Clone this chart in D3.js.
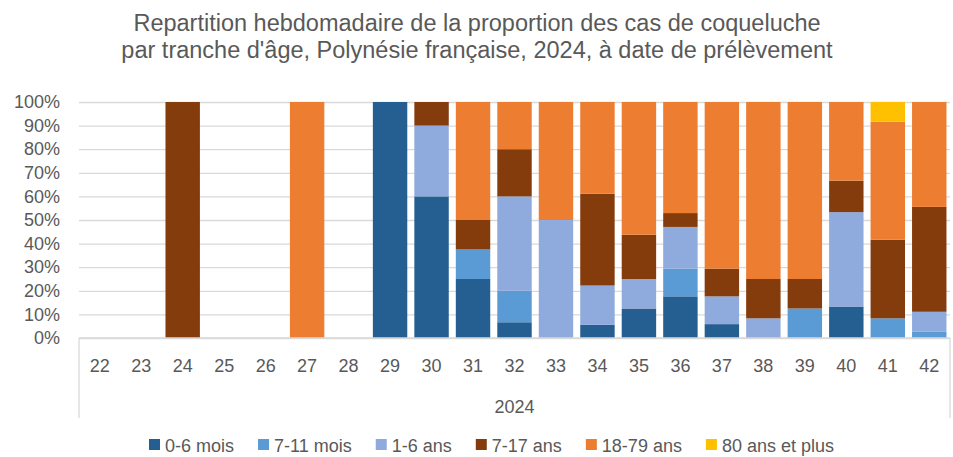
<!DOCTYPE html>
<html>
<head>
<meta charset="utf-8">
<title>Coqueluche par tranche d'âge</title>
<style>
    html, body { margin: 0; padding: 0; background: #fff; }
    svg { display: block; }
    text { font-family: 'Liberation Sans', Arial, sans-serif; fill: #595959; }
</style>
<script src="https://d3js.org/d3.v7.min.js"></script>
</head>
<body>
<svg id="chart" width="953" height="457"></svg>
<script>

    // weeks (semaine de prélèvement), year group
    var weeks = ["22", "23", "24", "25", "26", "27", "28", "29", "30", "31", "32",
                 "33", "34", "35", "36", "37", "38", "39", "40", "41", "42"];
    var year = "2024";

    var groups = ["0-6 mois", "7-11 mois", "1-6 ans", "7-17 ans", "18-79 ans", "80 ans et plus"];
    var colors = ["#255E91", "#5B9BD5", "#8FAADC", "#843C0C", "#ED7D31", "#FFC000"];

    // percentages, one array per age group
    var p0_6   = [0, 0, 0, 0, 0, 0, 0, 100, 60, 25, 6.67, 0, 5.56, 12.5, 17.65, 5.88, 0, 0, 13.33, 0, 0];
    var p7_11  = [0, 0, 0, 0, 0, 0, 0, 0, 0, 12.5, 13.33, 0, 0, 0, 11.76, 0, 0, 12.5, 0, 8.33, 2.78];
    var p1_6   = [0, 0, 0, 0, 0, 0, 0, 0, 30, 0, 40, 50, 16.67, 12.5, 17.65, 11.76, 8.33, 0, 40, 0, 8.33];
    var p7_17  = [0, 0, 100, 0, 0, 0, 0, 0, 10, 12.5, 20, 0, 38.89, 18.75, 5.88, 11.76, 16.67, 12.5, 13.33, 33.33, 44.44];
    var p18_79 = [0, 0, 0, 0, 0, 100, 0, 0, 0, 50, 20, 50, 38.89, 56.25, 47.06, 70.59, 75, 75, 33.33, 50, 44.44];
    var p80    = [0, 0, 0, 0, 0, 0, 0, 0, 0, 0, 0, 0, 0, 0, 0, 0, 0, 0, 0, 8.33, 0];

    var yTicks = [0, 10, 20, 30, 40, 50, 60, 70, 80, 90, 100];

    var series = [p0_6, p7_11, p1_6, p7_17, p18_79, p80];

    var rows = weeks.map(function(w, i) {
        var r = { week: w };
        groups.forEach(function(g, k) { r[g] = series[k][i]; });
        return r;
    });

    var plotLeft = 79, plotRight = 950, plotTop = 102, plotBottom = 338, axisBoxBottom = 418;

    var svg = d3.select("#chart");

    var x = d3.scaleBand().domain(weeks).range([plotLeft, plotRight])
        .paddingInner(0.17).paddingOuter(0.085);
    var y = d3.scaleLinear().domain([0, 100]).range([plotBottom, plotTop]);

    // title
    var title = svg.append("g").attr("text-anchor", "middle")
        .style("font-size", "23.5px");
    title.append("text").attr("x", 477).attr("y", 31)
        .text("Repartition hebdomadaire de la proportion des cas de coqueluche");
    title.append("text").attr("x", 477).attr("y", 58)
        .text("par tranche d'âge, Polynésie française, 2024, à date de prélèvement");

    // gridlines + y labels
    var yAxis = d3.axisLeft(y).tickValues(yTicks)
        .tickFormat(function(d) { return d + "%"; })
        .tickSize(-(plotRight - plotLeft)).tickPadding(19);

    var gy = svg.append("g").attr("transform", "translate(" + plotLeft + ",0)").call(yAxis);
    gy.select(".domain").remove();
    gy.selectAll("line").attr("stroke", "#D9D9D9").attr("stroke-width", 1.3);
    gy.selectAll("text").style("font-size", "18px").attr("fill", "#595959")
        .style("font-family", "'Liberation Sans', Arial, sans-serif");

    // stacked bars
    var stack = d3.stack().keys(groups);
    var layers = stack(rows);

    svg.append("g").selectAll("g").data(layers).enter().append("g")
        .attr("fill", function(d, i) { return colors[i]; })
        .selectAll("rect").data(function(d) { return d; }).enter()
        .filter(function(d) { return d[1] - d[0] > 0; })
        .append("rect")
        .attr("x", function(d) { return x(d.data.week); })
        .attr("width", x.bandwidth())
        .attr("y", function(d) { return y(d[1]); })
        .attr("height", function(d) { return y(d[0]) - y(d[1]); });

    // category axis (multi-level box)
    var gx = svg.append("g").attr("transform", "translate(0," + plotBottom + ")")
        .call(d3.axisBottom(x).tickSize(0).tickPadding(0));
    gx.select(".domain").remove();
    gx.selectAll("text").attr("dy", null).attr("y", 34)
        .style("font-size", "18px").attr("fill", "#595959")
        .style("font-family", "'Liberation Sans', Arial, sans-serif");

    var box = svg.append("g").attr("stroke", "#D9D9D9").attr("stroke-width", 1.3);
    box.append("line").attr("x1", plotLeft).attr("x2", plotRight).attr("y1", plotBottom).attr("y2", plotBottom);
    box.append("line").attr("x1", plotLeft).attr("x2", plotLeft).attr("y1", plotBottom).attr("y2", axisBoxBottom);
    box.append("line").attr("x1", plotRight).attr("x2", plotRight).attr("y1", plotBottom).attr("y2", axisBoxBottom);

    svg.append("text").attr("x", (plotLeft + plotRight) / 2).attr("y", 413)
        .attr("text-anchor", "middle").style("font-size", "18px").text(year);

    // legend
    var legend = svg.append("g");
    var lx = 0;
    groups.forEach(function(g, i) {
        var item = legend.append("g").attr("transform", "translate(" + lx + ",0)");
        item.append("rect").attr("x", 0).attr("y", -6).attr("width", 11).attr("height", 11)
            .attr("fill", colors[i]);
        var t = item.append("text").attr("x", 16).attr("y", 6.5)
            .style("font-size", "18px").text(g);
        lx += 16 + t.node().getComputedTextLength() + 24;
    });
    lx -= 24;
    legend.attr("transform", "translate(" + (491.5 - lx / 2) + ",445)");

</script>
</body>
</html>
